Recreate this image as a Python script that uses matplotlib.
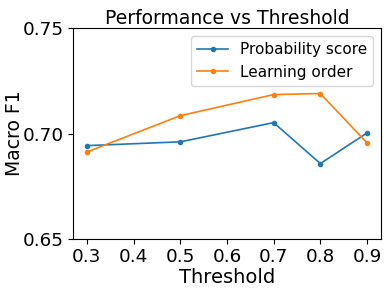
import matplotlib
matplotlib.use("Agg")
import matplotlib.pyplot as plt

thresholds = [0.3, 0.5, 0.7, 0.8, 0.9]
prob_score = [0.6943, 0.6961, 0.7052, 0.6858, 0.7003]
learn_order = [0.6913, 0.7085, 0.7185, 0.7190, 0.6956]
yticks = [0.65, 0.70, 0.75]

fig, ax = plt.subplots(figsize=(3.9, 2.93), dpi=100)
fig.subplots_adjust(left=0.187, right=0.977, top=0.904, bottom=0.184)
ax.plot(thresholds, prob_score, marker='o', markersize=3, color='#1f77b4', label='Probability score', linewidth=1.2)
ax.plot(thresholds, learn_order, marker='o', markersize=3, color='#ff7f0e', label='Learning order', linewidth=1.2)
ax.set_ylim(0.65, 0.75)
ax.set_yticks(yticks)
ax.set_yticklabels([f"{v:.2f}" for v in yticks])
ax.set_xticks([0.3, 0.4, 0.5, 0.6, 0.7, 0.8, 0.9])
ax.tick_params(labelsize=13.2, pad=3)
ax.set_xlabel('Threshold', fontsize=14, labelpad=1)
ax.set_ylabel('Macro F1', fontsize=13.5)
ax.yaxis.set_label_coords(-0.158, 0.5)
ax.set_title('Performance vs Threshold', fontsize=13.5, pad=3)
ax.legend(fontsize=11, loc='upper right')
fig.savefig('out.png', dpi=100)
